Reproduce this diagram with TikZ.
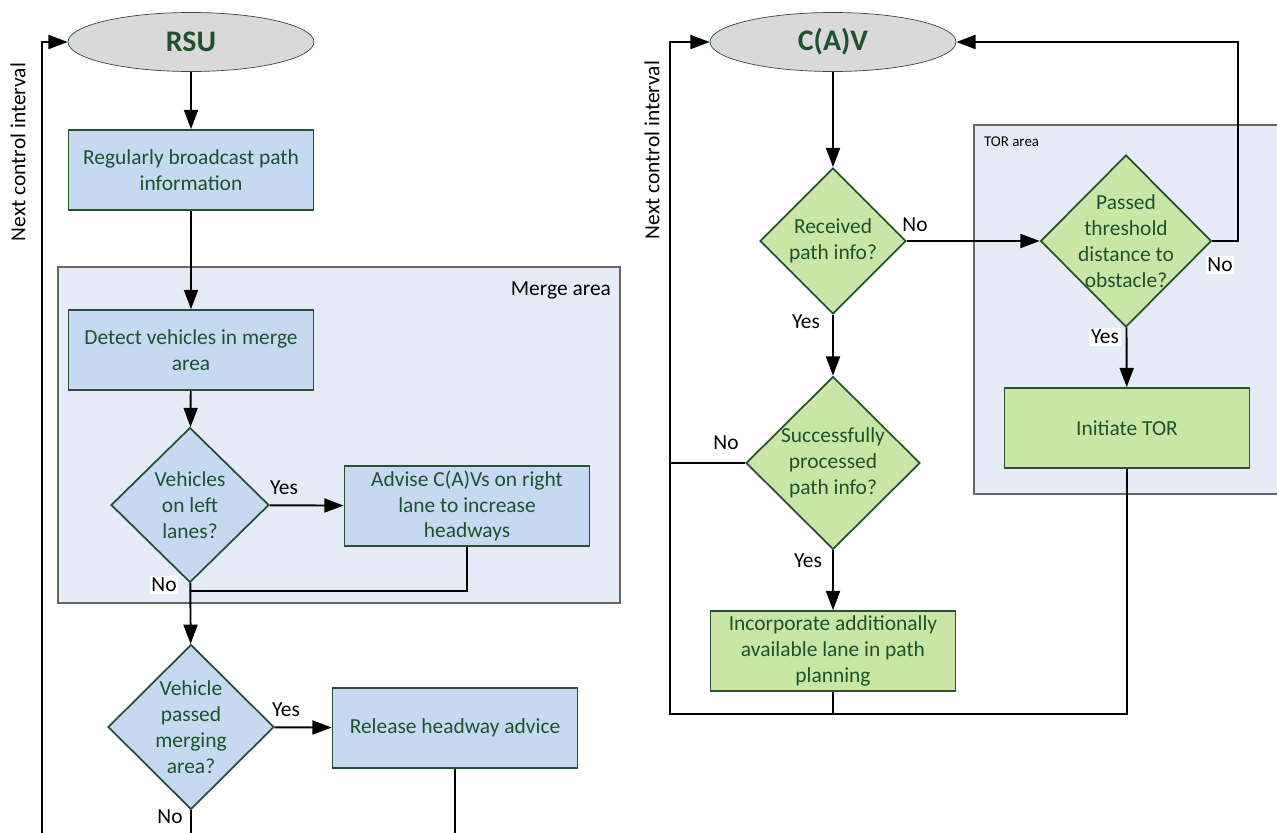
\documentclass[tikz,border=0pt]{standalone}
\usepackage{fontspec}
\setmainfont{Carlito}
\usepackage{tikz}
\usetikzlibrary{positioning, shapes.geometric, arrows.meta, calc}

\definecolor{boxblue}{RGB}{198,217,240}
\definecolor{boxgreen}{RGB}{202,230,165}
\definecolor{areablue}{RGB}{230,236,247}
\definecolor{rimgreen}{RGB}{40,80,50}
\definecolor{txtgreen}{RGB}{30,82,45}
\definecolor{ovalgray}{RGB}{217,217,217}

\begin{document}
\begin{tikzpicture}[x=0.02cm, y=-0.02cm,
    font=\fontsize{12.2}{14.7}\selectfont,
    proc/.style={rectangle, draw=rimgreen, line width=1pt, minimum width=4.9cm,
        minimum height=1.6cm, align=center, text=txtgreen, inner sep=2pt},
    oval/.style={ellipse, draw=rimgreen, line width=0.4pt, fill=ovalgray,
        minimum width=4.92cm, minimum height=1.18cm, text=txtgreen,
        font=\fontsize{17}{19}\selectfont\bfseries},
    dec/.style={diamond, draw=rimgreen, line width=1pt, inner sep=0pt},
    dtext/.style={align=center, text=txtgreen},
    area/.style={draw=black!60, line width=0.6pt, fill=areablue},
    lbl/.style={inner sep=1pt, text=black},
    arr/.style={line width=1.1pt, -{Triangle[length=11pt, width=8pt]}},
    wire/.style={line width=1.1pt}]
    \useasboundingbox (0,0) rectangle (1277,832);

    \draw[area] (58,267) rectangle (620,603);
    \node[lbl, anchor=north east] (mergelbl) at (613,280) {Merge area};
    \draw[area] (974,125) rectangle (1300,494);
    \node[lbl, anchor=north west, font=\fontsize{8.5}{10}\selectfont] (torlbl) at (982,135) {TOR area};

    \node[oval] (rsu) at (191,42) {RSU};
    \node[proc, fill=boxblue] (broadcast) at (191,170) {Regularly broadcast path\\information};
    \node[proc, fill=boxblue] (detect) at (191,350) {Detect vehicles in merge\\area};
    \node[dec, fill=boxblue, minimum width=3.16cm, minimum height=3.1cm,
        label={[dtext]center:Vehicles\\on left\\lanes?}] (leftlanes) at (190,505) {};
    \node[proc, fill=boxblue] (advise) at (467,506) {Advise C(A)Vs on right\\lane to increase\\headways};
    \node[dec, fill=boxblue, minimum width=3.32cm, minimum height=3.3cm,
        label={[dtext]center:Vehicle\\passed\\merging\\area?}] (passed) at (191,727) {};
    \node[proc, fill=boxblue] (release) at (455,728) {Release headway advice};

    \node[oval] (cav) at (833,42) {C(A)V};
    \node[dec, fill=boxgreen, minimum width=2.92cm, minimum height=2.92cm,
        label={[dtext]center:Received\\path info?}] (received) at (833,241) {};
    \node[dec, fill=boxgreen, minimum width=3.42cm, minimum height=3.44cm,
        label={[dtext]center:Passed\\threshold\\distance to\\obstacle?}] (threshold) at (1126,241) {};
    \node[proc, fill=boxgreen] (tor) at (1127,428) {Initiate TOR};
    \node[dec, fill=boxgreen, minimum width=3.48cm, minimum height=3.46cm,
        label={[dtext]center:Successfully\\processed\\path info?}] (processed) at (833,463) {};
    \node[proc, fill=boxgreen] (incorporate) at (833,651) {Incorporate additionally\\available lane in path\\planning};

    \node[lbl, rotate=90] (nextl) at (18,152) {Next control interval};
    \node[lbl, rotate=90] (nextr) at (652,150) {Next control interval};

    \coordinate (joinl) at (190,591);
    \coordinate (endrel) at (455,840);
    \coordinate (endpas) at (191,840);
    \coordinate (loopl) at (42,840);
    \coordinate (loopr) at (670,714);

    \draw[arr] (rsu) -- (broadcast);
    \draw[arr] (broadcast) -- (detect);
    \draw[arr] (detect) -- (leftlanes);
    \draw[arr] (leftlanes) -- (advise);
    \draw[wire] (advise.south) |- (joinl);
    \draw[arr] (leftlanes) -- (passed);
    \draw[arr] (passed) -- (release);
    \draw[wire] (release.south) -- (endrel);
    \draw[wire] (passed.south) -- (endpas);
    \draw[arr] (loopl) |- (rsu.west);

    \draw[arr] (cav) -- (received);
    \draw[arr] (received) -- (threshold);
    \draw[arr] (threshold.east) -- ++(26,0) |- (cav.east);
    \draw[arr] (threshold) -- (tor);
    \draw[arr] (received) -- (processed);
    \draw[arr] (processed) -- (incorporate);
    \draw[arr] (tor.south) |- (loopr) |- (cav.west);
    \draw[wire] (incorporate.south) -- (incorporate.south |- loopr);
    \draw[wire] (processed.west) -- (processed.west -| loopr);

    \node[lbl] (yes1) at (284,488) {Yes};
    \node[lbl, fill=white] (no1) at (164,585) {No};
    \node[lbl] (yes2) at (286,710) {Yes};
    \node[lbl] (no2) at (170,817) {No};
    \node[lbl] (no3) at (915,225) {No};
    \node[lbl] (yes3) at (806,322) {Yes};
    \node[lbl, fill=white] (no4) at (1220,265) {No};
    \node[lbl, fill=white] (yes4) at (1105,337) {Yes};
    \node[lbl] (no5) at (726,443) {No};
    \node[lbl] (yes5) at (808,561) {Yes};
\end{tikzpicture}
\end{document}
